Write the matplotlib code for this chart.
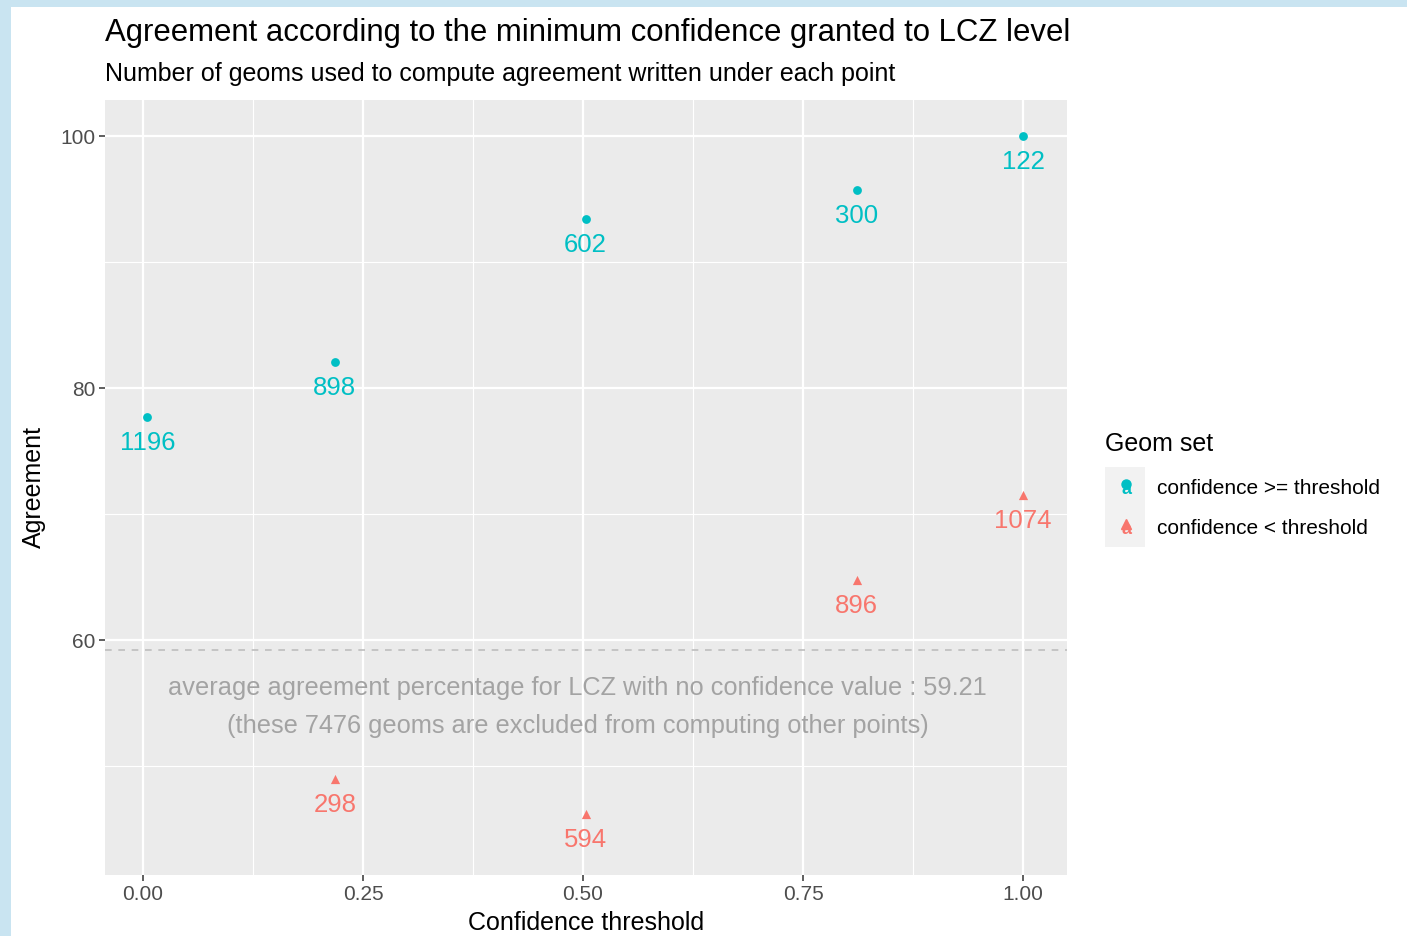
import numpy as np
import matplotlib.pyplot as plt
from matplotlib.patches import Rectangle
from matplotlib.lines import Line2D

# --- Données ---
seuils_haut = [0.005, 0.218, 0.503, 0.811, 1.0]
accord_haut = [77.7, 82.1, 93.4, 95.7, 100.0]
n_haut = ['1196', '898', '602', '300', '122']

seuils_bas = [0.218, 0.503, 0.811, 1.0]
accord_bas = [49.0, 46.2, 64.8, 71.5]
n_bas = ['298', '594', '896', '1074']

accord_sans_conf = 59.21
n_sans_conf = 7476

bleu = '#00BFC4'
rouge = '#F8766D'
W, H = 1407, 936

plt.rcParams['font.family'] = ['Liberation Sans', 'DejaVu Sans']

fig = plt.figure(figsize=(W / 100, H / 100), dpi=100, facecolor='#c9e4f1')
fig.add_artist(Rectangle((11 / W, 0), 1 - 11 / W, 1 - 7 / H, transform=fig.transFigure,
                         facecolor='white', edgecolor='none', zorder=0))

ax = fig.add_axes([105 / W, 1 - 875 / H, (1067 - 105) / W, (875 - 100) / H])
ax.set_facecolor('#EBEBEB')
ax.set_xlim(-0.0432, 1.05)
ax.set_ylim(41.35, 102.86)
ax.set_xticks([0, 0.25, 0.5, 0.75, 1.0])
ax.set_xticklabels(['0.00', '0.25', '0.50', '0.75', '1.00'])
ax.set_yticks([60, 80, 100])
ax.set_xticks([0.125, 0.375, 0.625, 0.875], minor=True)
ax.set_yticks([50, 70, 90], minor=True)
ax.grid(True, which='major', color='white', linewidth=1.6)
ax.grid(True, which='minor', color='white', linewidth=0.8)
ax.set_axisbelow(True)
for s in ax.spines.values():
    s.set_visible(False)
ax.tick_params(which='major', length=4, width=1.1, color='#333333',
               labelcolor='#4D4D4D', labelsize=15, pad=3)
ax.tick_params(which='minor', length=0)

# ligne moyenne sans confiance
ax.axhline(accord_sans_conf, color='#BEBEBE', linestyle=(0, (4, 4)), linewidth=1.2)
ax.text(0.494, 56.2, f'average agreement percentage for LCZ with no confidence value : {accord_sans_conf}',
        ha='center', va='center', color='#A3A3A3', fontsize=18.3)
ax.text(0.494, 53.2, f'(these {n_sans_conf} geoms are excluded from computing other points)',
        ha='center', va='center', color='#A3A3A3', fontsize=18.3)

ax.scatter(seuils_haut, accord_haut, marker='o', s=40, color=bleu, zorder=3, linewidths=0)
ax.scatter(seuils_bas, accord_bas, marker='^', s=44, color=rouge, zorder=3, linewidths=0)
for x, y, n in zip(seuils_haut, accord_haut, n_haut):
    ax.annotate(n, (x, y), xytext=(0, -26), textcoords='offset pixels',
                ha='center', va='center', color=bleu, fontsize=18.5)
for x, y, n in zip(seuils_bas, accord_bas, n_bas):
    ax.annotate(n, (x, y), xytext=(0, -26), textcoords='offset pixels',
                ha='center', va='center', color=rouge, fontsize=18.5)

ax.set_xlabel('Confidence threshold', fontsize=18, labelpad=5)
ax.set_ylabel('Agreement', fontsize=18, labelpad=10)

fig.text(105 / W, 1 - 33 / H, 'Agreement according to the minimum confidence granted to LCZ level',
         fontsize=22.4, va='center', ha='left')
fig.text(105 / W, 1 - 74 / H, 'Number of geoms used to compute agreement written under each point',
         fontsize=18, va='center', ha='left')

# --- Légende ---
fig.text(1105 / W, 1 - 444 / H, 'Geom set', fontsize=18, va='center', ha='left')
for i, (c, m, lab) in enumerate([(bleu, 'o', 'confidence >= threshold'),
                                 (rouge, '^', 'confidence < threshold')]):
    y0 = 467 + 40 * i
    fig.add_artist(Rectangle((1105 / W, 1 - (y0 + 40) / H), 40 / W, 40 / H,
                             transform=fig.transFigure, facecolor='#F2F2F2', edgecolor='none'))
    yc = 1 - (y0 + 20) / H
    fig.add_artist(Line2D([1126 / W], [yc + 3 / H], marker=m, markersize=6.5, color=c,
                          linestyle='none', transform=fig.transFigure))
    fig.text(1126 / W, yc - 2 / H, 'a', color=c, fontsize=13, ha='center', va='center',
             fontweight='bold')
    fig.text(1157 / W, yc - 1 / H, lab, fontsize=15, va='center', ha='left')

plt.savefig('out.png', dpi=100, facecolor=fig.get_facecolor())
